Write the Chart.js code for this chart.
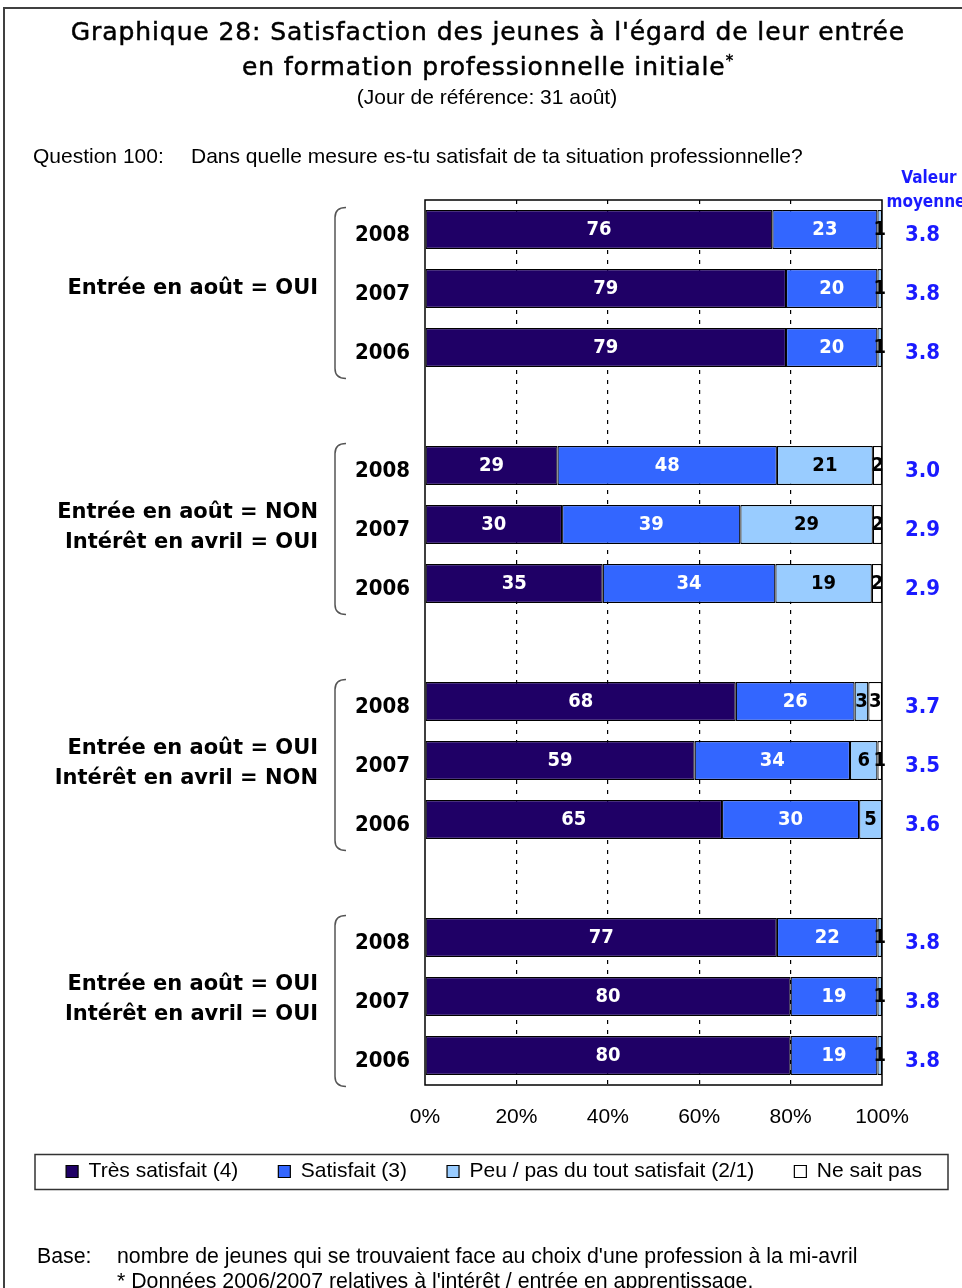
<!DOCTYPE html>
<html lang="fr">
<head>
<meta charset="utf-8">
<title>Graphique 28</title>
<script src="https://cdn.jsdelivr.net/npm/chart.js@4.4.1/dist/chart.umd.min.js"></script>
<style>
  html, body { margin: 0; padding: 0; background: #fff; }
  body { width: 962px; height: 1288px; position: relative; overflow: hidden; font-family: "Liberation Sans", Arial, sans-serif; color: #000; }
  #frame { position: absolute; left: 3px; top: 7px; width: 1000px; height: 1400px; border: 2px solid #404040; }
  #chart { position: absolute; left: 0; top: 0; }
  .t { position: absolute; white-space: nowrap; line-height: 1; }
  .title { left: 0; width: 976px; text-align: center; font-family: "DejaVu Sans", sans-serif; font-size: 25px; letter-spacing: 0.9px; -webkit-text-stroke: 0.5px #000; }
  .sub { left: 0; width: 974px; text-align: center; font-size: 21px; }
  .q { font-size: 21px; }
  .f { font-size: 21.3px; }
  .vm { left: 886px; width: 86px; text-align: center; font-family: "Liberation Sans Narrow", "DejaVu Sans Condensed", sans-serif; font-weight: bold; font-size: 17px; color: #1a1aff; }
</style>
</head>
<body>
<div id="frame"></div>
<canvas id="chart" width="962" height="1288"></canvas>

<div class="t title" style="top:19px">Graphique 28: Satisfaction des jeunes à l'égard de leur entrée</div>
<div class="t title" style="top:54px">en formation professionnelle initiale<span style="font-size:15px;vertical-align:top">*</span></div>
<div class="t sub" style="top:86px">(Jour de référence: 31 août)</div>
<div class="t q" style="left:33px;top:145px">Question 100:</div>
<div class="t q" style="left:191px;top:145px">Dans quelle mesure es-tu satisfait de ta situation professionnelle?</div>
<div class="t vm" style="top:169px">Valeur</div>
<div class="t vm" style="top:193px">moyenne:</div>
<div class="t f" style="left:37px;top:1246px">Base:</div>
<div class="t f" style="left:117px;top:1246px">nombre de jeunes qui se trouvaient face au choix d'une profession à la mi-avril</div>
<div class="t f" style="left:117px;top:1271px">* Données 2006/2007 relatives à l'intérêt / entrée en apprentissage.</div>

<script>
// données
const years = ['2008', '2007', '2006'];
const groupLabels = [
    ['Entrée en août = OUI'],
    ['Entrée en août = NON', 'Intérêt en avril = OUI'],
    ['Entrée en août = OUI', 'Intérêt en avril = NON'],
    ['Entrée en août = OUI', 'Intérêt en avril = OUI']
];
const seriesNames = ['Très satisfait (4)', 'Satisfait (3)', 'Peu / pas du tout satisfait (2/1)', 'Ne sait pas'];
const tresSatisfait = [76, 79, 79, 29, 30, 35, 68, 59, 65, 77, 80, 80];
const satisfait = [23, 20, 20, 48, 39, 34, 26, 34, 30, 22, 19, 19];
const peuSatisfait = [1, 1, 1, 21, 29, 19, 3, 6, 5, 1, 1, 1];
const neSaitPas = [0, 0, 0, 2, 2, 2, 3, 1, 0, 0, 0, 0];
const moyennes = ['3.8', '3.8', '3.8', '3.0', '2.9', '2.9', '3.7', '3.5', '3.6', '3.8', '3.8', '3.8'];
const xTickLabels = ['0%', '20%', '40%', '60%', '80%', '100%'];

const COLORS = ['#1f0066', '#3366ff', '#99ccff', '#ffffff'];
const series = [tresSatisfait, satisfait, peuSatisfait, neSaitPas];

// une case vide entre chaque groupe
const slotLabels = [];
const slotMeans = [];
const rowIndex = [];
groupLabels.forEach((g, gi) => {
    if (gi > 0) { slotLabels.push(''); slotMeans.push(''); rowIndex.push(null); }
    years.forEach((yr, yi) => {
        slotLabels.push(yr);
        slotMeans.push(moyennes[gi * 3 + yi]);
        rowIndex.push(gi * 3 + yi);
    });
});

// barres empilées à 100%
const rowTotals = tresSatisfait.map((_, i) => series.reduce((s, arr) => s + arr[i], 0));

const datasets = series.map((vals, si) => ({
    label: seriesNames[si],
    rawValues: rowIndex.map(r => r === null ? null : vals[r]),
    data: rowIndex.map(r => r === null ? null : vals[r] / rowTotals[r] * 100),
    backgroundColor: COLORS[si],
    borderColor: '#000',
    borderWidth: 1.2,
    borderSkipped: false,
    barPercentage: 0.66,
    categoryPercentage: 1
}));

const decorPlugin = {
    id: 'decor',
    afterLayout(chart) {
        // remonter un peu la légende
        chart.legend.top -= 10;
        chart.legend.bottom -= 10;
    },
    afterDatasetsDraw(chart) {
        const ctx = chart.ctx;
        chart.data.datasets.forEach((ds, di) => {
            const meta = chart.getDatasetMeta(di);
            meta.data.forEach((bar, i) => {
                const v = ds.rawValues[i];
                if (!v) return;
                const p = bar.getProps(['x', 'y', 'base'], true);
                ctx.save();
                ctx.font = 'bold 20px "DejaVu Sans Condensed", "DejaVu Sans", sans-serif';
                ctx.fillStyle = di < 2 ? '#fff' : '#000';
                ctx.textAlign = 'center';
                ctx.textBaseline = 'middle';
                ctx.fillText(String(v), (p.x + p.base) / 2, p.y);
                ctx.restore();
            });
        });
        const a = chart.chartArea;
        ctx.save();
        ctx.strokeStyle = '#000';
        ctx.lineWidth = 1.5;
        ctx.strokeRect(a.left, a.top, a.right - a.left, a.bottom - a.top);
        ctx.restore();
    },
    afterDraw(chart) {
        const ctx = chart.ctx;
        const yScale = chart.scales.y;
        const left = chart.chartArea.left;
        ctx.save();
        groupLabels.forEach((lines, gi) => {
            const first = yScale.getPixelForValue(gi * 4);
            const mid = yScale.getPixelForValue(gi * 4 + 1);
            const last = yScale.getPixelForValue(gi * 4 + 2);
            // accolade
            const bx = left - 90, top = first - 22, bottom = last + 31;
            ctx.strokeStyle = '#555';
            ctx.lineWidth = 1.5;
            ctx.beginPath();
            ctx.moveTo(bx + 11, top);
            ctx.quadraticCurveTo(bx, top, bx, top + 10);
            ctx.lineTo(bx, bottom - 10);
            ctx.quadraticCurveTo(bx, bottom, bx + 11, bottom);
            ctx.stroke();
            // libellé du groupe
            ctx.font = 'bold 21px "DejaVu Sans", sans-serif';
            ctx.fillStyle = '#000';
            ctx.textAlign = 'right';
            ctx.textBaseline = 'middle';
            if (lines.length === 1) {
                ctx.fillText(lines[0], left - 107, mid);
            } else {
                ctx.fillText(lines[0], left - 107, mid - 12);
                ctx.fillText(lines[1], left - 107, mid + 18);
            }
        });
        // cadre de la légende
        const lg = chart.legend;
        const hb = lg.legendHitBoxes[0];
        const cy = hb.top + hb.height / 2;
        ctx.strokeStyle = '#333';
        ctx.lineWidth = 1.5;
        ctx.strokeRect(35, cy - 17, 913, 35);
        ctx.restore();
    }
};

new Chart(document.getElementById('chart').getContext('2d'), {
    type: 'bar',
    data: { labels: slotLabels, datasets },
    plugins: [decorPlugin],
    options: {
        indexAxis: 'y',
        responsive: false,
        animation: false,
        devicePixelRatio: 1,
        layout: { padding: { top: 200, left: 26, right: 0, bottom: 86 } },
        plugins: {
            tooltip: { enabled: false },
            legend: {
                position: 'bottom',
                labels: {
                    boxWidth: 12,
                    boxHeight: 12,
                    padding: 40,
                    color: '#000',
                    font: { family: '"Liberation Sans", Arial, sans-serif', size: 21 }
                }
            }
        },
        scales: {
            x: {
                stacked: true,
                min: 0,
                max: 100,
                ticks: {
                    stepSize: 20,
                    callback: (v, i) => xTickLabels[i],
                    color: '#000',
                    padding: 20,
                    font: { family: '"Liberation Sans", Arial, sans-serif', size: 21 }
                },
                grid: {
                    drawTicks: false,
                    lineWidth: 1.2,
                    color: c => (c.tick && (c.tick.value === 0 || c.tick.value === 100)) ? 'rgba(0,0,0,0)' : '#000'
                },
                border: { display: false, dash: [4, 6] },
                afterFit: s => { s.height = 46; }
            },
            y: {
                stacked: true,
                ticks: {
                    color: '#000',
                    padding: 15,
                    labelOffset: 6,
                    font: { family: '"DejaVu Sans Condensed", "DejaVu Sans", sans-serif', weight: 'bold', size: 22 }
                },
                grid: { display: false, drawTicks: false },
                border: { display: false },
                afterFit: s => { s.width = 399; }
            },
            y2: {
                type: 'category',
                position: 'right',
                labels: slotMeans,
                offset: true,
                ticks: {
                    color: '#1a1aff',
                    padding: 23,
                    labelOffset: 6,
                    font: { family: '"DejaVu Sans Condensed", "DejaVu Sans", sans-serif', weight: 'bold', size: 22 }
                },
                grid: { display: false, drawTicks: false },
                border: { display: false },
                afterFit: s => { s.width = 80; }
            }
        }
    }
});
</script>
</body>
</html>
